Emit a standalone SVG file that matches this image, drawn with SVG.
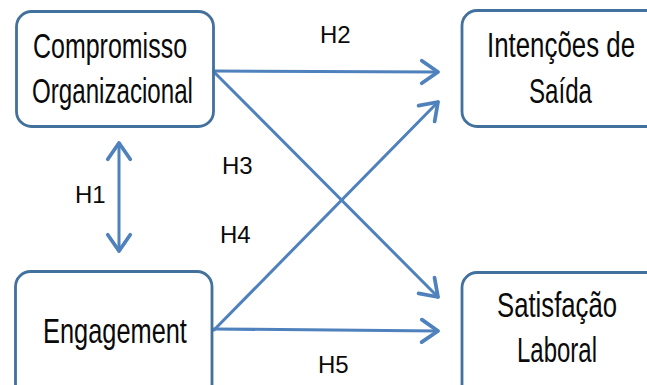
<svg xmlns="http://www.w3.org/2000/svg" width="647" height="385" viewBox="0 0 647 385">
  <style>
    .box { fill: #ffffff; stroke: #41719c; stroke-width: 2.8; }
    .lbl { font-family: "Liberation Sans", Arial, sans-serif; font-size: 35px; fill: #0a0a0a; text-anchor: middle; }
    .hyp { font-family: "Liberation Sans", Arial, sans-serif; font-size: 24px; fill: #0a0a0a; }
    .link { fill: none; stroke: #4f81bd; stroke-width: 3; stroke-linecap: round; }
    .head { fill: none; stroke: #4f81bd; stroke-width: 3; stroke-linecap: round; stroke-linejoin: round; }
  </style>
  <defs>
    <marker id="arrowEnd" markerUnits="userSpaceOnUse" markerWidth="30" markerHeight="30" refX="0" refY="0" orient="auto" viewBox="-16 -12 20 24" overflow="visible">
      <path class="head" d="M-13,-9 L0,0 L-13,9"/>
    </marker>
    <marker id="arrowStart" markerUnits="userSpaceOnUse" markerWidth="30" markerHeight="30" refX="0" refY="0" orient="auto-start-reverse" viewBox="-16 -12 20 24" overflow="visible">
      <path class="head" d="M-13,-9 L0,0 L-13,9"/>
    </marker>
  </defs>

  <rect width="647" height="385" fill="#ffffff"/>

  <!-- connectors -->
  <g id="connectors">
    <line class="link" x1="119" y1="143" x2="119" y2="251" marker-start="url(#arrowStart)" marker-end="url(#arrowEnd)"/>
    <line class="link" x1="214" y1="71" x2="438" y2="72" marker-end="url(#arrowEnd)"/>
    <line class="link" x1="214" y1="72" x2="438" y2="297" marker-end="url(#arrowEnd)"/>
    <line class="link" x1="214" y1="330" x2="438" y2="102" marker-end="url(#arrowEnd)"/>
    <line class="link" x1="214" y1="329" x2="438" y2="331" marker-end="url(#arrowEnd)"/>
    <text class="hyp" x="75" y="203">H1</text>
    <text class="hyp" x="320" y="43">H2</text>
    <text class="hyp" x="222" y="174">H3</text>
    <text class="hyp" x="220" y="243">H4</text>
    <text class="hyp" x="318" y="373">H5</text>
  </g>

  <!-- nodes (right-hand and lower boxes run past the canvas edge, so their outer sides are left open);
       labels are condensed horizontally with scale() -->
  <g id="compromisso">
    <rect class="box" x="16.5" y="11.5" width="197" height="115" rx="15"/>
    <text class="lbl" transform="translate(110,58) scale(0.714,1)">Compromisso</text>
    <text class="lbl" transform="translate(112.5,103) scale(0.69,1)">Organizacional</text>
  </g>
  <g id="intencoes">
    <path class="box" d="M648,10.5 H477 A15,15 0 0 0 462,25.5 V111.5 A15,15 0 0 0 477,126.5 H648"/>
    <text class="lbl" transform="translate(561,57) scale(0.739,1)">Intenções de</text>
    <text class="lbl" transform="translate(560.5,103) scale(0.69,1)">Saída</text>
  </g>
  <g id="engagement">
    <path class="box" d="M15.5,387 V286.5 A15,15 0 0 1 30.5,271.5 H197 A15,15 0 0 1 212,286.5 V387"/>
    <text class="lbl" transform="translate(115,343) scale(0.725,1)">Engagement</text>
  </g>
  <g id="satisfacao">
    <path class="box" d="M648,272.5 H477 A15,15 0 0 0 462,287.5 V387"/>
    <text class="lbl" transform="translate(557,317) scale(0.734,1)">Satisfação</text>
    <text class="lbl" transform="translate(557,362) scale(0.685,1)">Laboral</text>
  </g>
</svg>
